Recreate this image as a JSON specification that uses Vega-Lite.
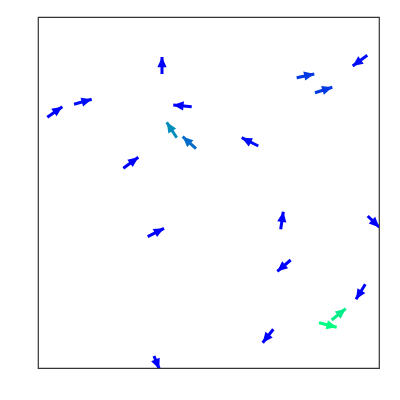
{
  "$schema": "https://vega.github.io/schema/vega-lite/v6.json",
  "width": 341,
  "height": 351,
  "autosize": {"type": "none"},
  "padding": {"left": 38, "top": 17, "right": 21, "bottom": 32},
  "background": "white",
  "config": {"view": {"stroke": "#333333", "strokeWidth": 1.2}},
  "data": {"values": [
    {"x": 124, "y": 294, "x2": 124, "y2": 311, "a": 0, "c": 0},
    {"x": 153.7, "y": 261.3, "x2": 135.3, "y2": 263, "a": -84.7, "c": 0},
    {"x": 138.7, "y": 230.3, "x2": 128.7, "y2": 245.7, "a": -33, "c": 0.55},
    {"x": 158, "y": 219.3, "x2": 144.7, "y2": 231.3, "a": -48, "c": 0.42},
    {"x": 9.3, "y": 250.7, "x2": 24.3, "y2": 261.3, "a": 54.8, "c": 0},
    {"x": 36, "y": 263.7, "x2": 53.7, "y2": 268.7, "a": 74.2, "c": 0.05},
    {"x": 85.3, "y": 199.7, "x2": 100.3, "y2": 210.7, "a": 53.7, "c": 0},
    {"x": 329.3, "y": 312.7, "x2": 314.7, "y2": 302, "a": -126.2, "c": 0.05},
    {"x": 258.7, "y": 290.3, "x2": 276.3, "y2": 294, "a": 78.1, "c": 0.22},
    {"x": 277, "y": 275.3, "x2": 294.3, "y2": 280.7, "a": 72.7, "c": 0.22},
    {"x": 220.3, "y": 222, "x2": 203.7, "y2": 230.3, "a": -63.4, "c": 0.05},
    {"x": 109.7, "y": 131.3, "x2": 126, "y2": 139.7, "a": 62.7, "c": 0},
    {"x": 242.7, "y": 138.7, "x2": 245.3, "y2": 156.3, "a": 8.4, "c": 0},
    {"x": 329.7, "y": 152, "x2": 341.3, "y2": 140.7, "a": 134.2, "c": 0},
    {"x": 252.7, "y": 108, "x2": 239.3, "y2": 96.7, "a": -130.1, "c": 0},
    {"x": 327.3, "y": 83.7, "x2": 318, "y2": 68.7, "a": -148.2, "c": 0},
    {"x": 293.7, "y": 48, "x2": 307.7, "y2": 59.3, "a": 51.1, "c": 0.93},
    {"x": 281, "y": 45.3, "x2": 298.7, "y2": 40.7, "a": 104.6, "c": 1},
    {"x": 235.3, "y": 38.7, "x2": 224.7, "y2": 25.3, "a": -141.6, "c": 0},
    {"x": 116, "y": 12, "x2": 121.3, "y2": -1, "a": 157.8, "c": 0}
  ]},
  "layer": [
    {
      "mark": {"type": "rule", "strokeWidth": 3, "clip": true},
      "encoding": {
        "x": {"field": "x", "type": "quantitative", "scale": {"domain": [0, 341], "nice": false, "zero": false}, "axis": null},
        "y": {"field": "y", "type": "quantitative", "scale": {"domain": [0, 351], "nice": false, "zero": false}, "axis": null},
        "x2": {"field": "x2"},
        "y2": {"field": "y2"},
        "color": {"field": "c", "type": "quantitative", "scale": {"domain": [0, 1], "range": ["#0000ff", "#00ff80"], "interpolate": "rgb"}, "legend": null}
      }
    },
    {
      "mark": {"type": "point", "shape": "M0,0L-0.45,1L0.45,1Z", "filled": true, "opacity": 1, "size": 420, "clip": true},
      "encoding": {
        "x": {"field": "x2", "type": "quantitative", "scale": {"domain": [0, 341], "nice": false, "zero": false}, "axis": null},
        "y": {"field": "y2", "type": "quantitative", "scale": {"domain": [0, 351], "nice": false, "zero": false}, "axis": null},
        "angle": {"field": "a", "type": "quantitative", "scale": null},
        "color": {"field": "c", "type": "quantitative", "scale": {"domain": [0, 1], "range": ["#0000ff", "#00ff80"], "interpolate": "rgb"}, "legend": null}
      }
    }
  ]
}
